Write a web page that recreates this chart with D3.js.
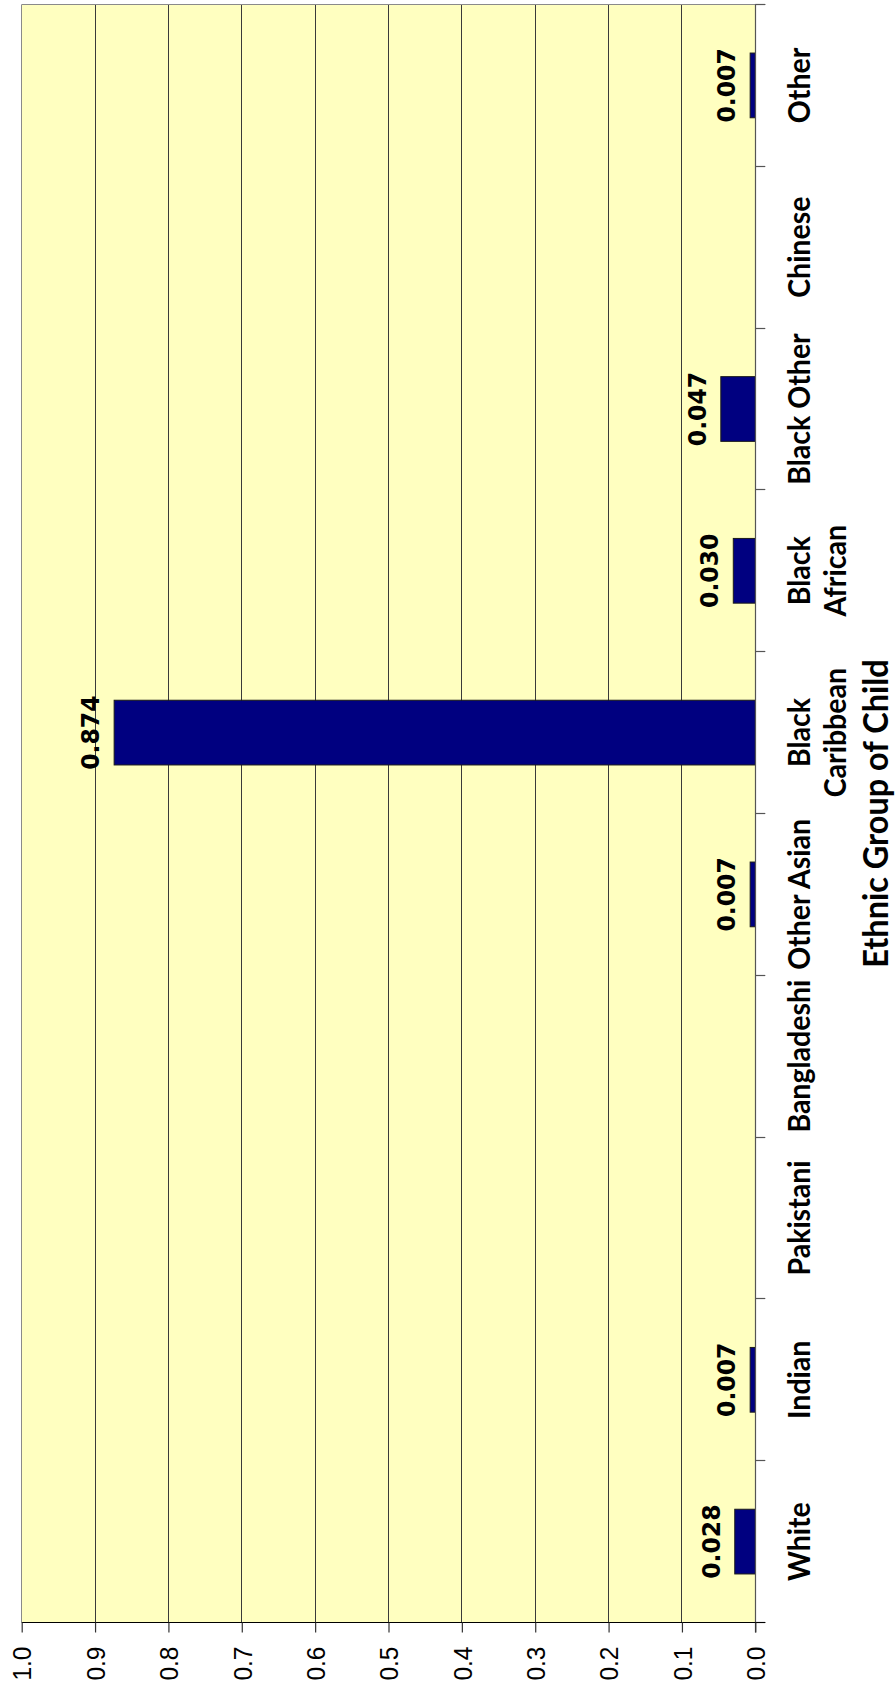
<!DOCTYPE html>
<html>
<head>
<meta charset="utf-8">
<script src="https://cdn.jsdelivr.net/npm/d3@7"></script>
<style>
  body { margin: 0; background: #ffffff; }
  svg { display: block; }
</style>
</head>
<body>
<svg id="chart" width="896" height="1691"></svg>
<script>
// Proportion of children in each ethnic group
const categories = ["White", "Indian", "Pakistani", "Bangladeshi", "Other Asian",
  "Black Caribbean", "Black African", "Black Other", "Chinese", "Other"];
const categoryLines = [["White"], ["Indian"], ["Pakistani"], ["Bangladeshi"], ["Other Asian"],
  ["Black", "Caribbean"], ["Black", "African"], ["Black Other"], ["Chinese"], ["Other"]];
const proportions = [0.028, 0.007, null, null, 0.007, 0.874, 0.030, 0.047, null, 0.007];
const valueTicks = [0.0, 0.1, 0.2, 0.3, 0.4, 0.5, 0.6, 0.7, 0.8, 0.9, 1.0];
const axisTitle = "Ethnic Group of Child";

const W = 896, H = 1691;
const plot = { left: 21.7, right: 755.3, top: 4.5, bottom: 1622.5 };
const stretch = 1.06;

const svg = d3.select("#chart");
svg.append("rect").attr("width", W).attr("height", H).attr("fill", "#ffffff");

// value axis runs right-to-left (0 at the category axis)
const x = d3.scaleLinear().domain([0, 1]).range([plot.right, plot.left]);
const order = categories.slice().reverse();          // "Other" at the top
const slot = d3.scaleBand().domain(order).range([plot.top, plot.bottom]);
const band = d3.scaleBand().domain(order).range([plot.top, plot.bottom])
  .paddingInner(0.6).paddingOuter(0.3);

const data = categories.map((c, i) => ({ cat: c, lines: categoryLines[i], v: proportions[i] }));
const crisp = v => Math.round(v - 0.5) + 0.5;

// plot background
svg.append("rect")
  .attr("x", x(1)).attr("y", plot.top)
  .attr("width", x(0) - x(1)).attr("height", plot.bottom - plot.top)
  .attr("fill", "#FFFFC0");

// gridlines
svg.append("g").selectAll("line")
  .data(valueTicks.filter(t => t > 0))
  .join("line")
  .attr("x1", d => crisp(x(d))).attr("x2", d => crisp(x(d)))
  .attr("y1", plot.top).attr("y2", plot.bottom)
  .attr("stroke", d => d === 1 ? "#8a8a8a" : "#3a3a3a")
  .attr("stroke-width", 1);

// top border of the plot area
svg.append("line")
  .attr("x1", x(1)).attr("x2", x(0) + 10)
  .attr("y1", crisp(plot.top)).attr("y2", crisp(plot.top))
  .attr("stroke", "#8a8a8a").attr("stroke-width", 1.2);

// bars
const bars = data.filter(d => d.v != null);
svg.append("g").selectAll("rect")
  .data(bars)
  .join("rect")
  .attr("x", d => x(d.v))
  .attr("y", d => band(d.cat))
  .attr("width", d => x(0) - x(d.v))
  .attr("height", band.bandwidth())
  .attr("fill", "#000080")
  .attr("stroke", "#1a1a1a")
  .attr("stroke-width", 1);

// value labels at the outer end of each bar
svg.append("g").selectAll("text")
  .data(bars)
  .join("text")
  .attr("transform", d => `translate(${x(d.v) - 15},${band(d.cat) + band.bandwidth() / 2}) rotate(-90) scale(1,${stretch})`)
  .attr("text-anchor", "middle")
  .attr("font-family", "'DejaVu Sans', Verdana, sans-serif")
  .attr("font-weight", "bold")
  .attr("font-size", 23.5)
  .attr("fill", "#000")
  .text(d => d3.format(".3f")(d.v));

// category axis (vertical, at value 0)
const catAxis = svg.append("g");
catAxis.append("line")
  .attr("x1", crisp(x(0))).attr("x2", crisp(x(0)))
  .attr("y1", plot.top).attr("y2", plot.bottom + 10)
  .attr("stroke", "#555").attr("stroke-width", 1.2);
const boundaries = order.map(c => slot(c)).concat([plot.bottom]);
catAxis.selectAll("line.tick")
  .data(boundaries)
  .join("line")
  .attr("class", "tick")
  .attr("x1", x(0)).attr("x2", x(0) + 10)
  .attr("y1", d => crisp(d)).attr("y2", d => crisp(d))
  .attr("stroke", "#555").attr("stroke-width", 1.2);

const catLabels = catAxis.selectAll("text.cat")
  .data(data)
  .join("text")
  .attr("class", "cat")
  .attr("transform", d => `translate(810,${slot(d.cat) + slot.bandwidth() / 2}) rotate(-90) scale(1,${stretch})`)
  .attr("text-anchor", "middle")
  .attr("font-family", "Lato, 'Open Sans', sans-serif")
  .attr("font-weight", "bold")
  .attr("font-size", 28.5)
  .attr("fill", "#000");
catLabels.selectAll("tspan")
  .data(d => d.lines)
  .join("tspan")
  .attr("x", 0)
  .attr("dy", (d, i) => i === 0 ? 0 : 34)
  .text(d => d);

// axis title
svg.append("text")
  .attr("transform", `translate(888,${(plot.top + plot.bottom) / 2}) rotate(-90) scale(1,${stretch})`)
  .attr("text-anchor", "middle")
  .attr("font-family", "Lato, 'Open Sans', sans-serif")
  .attr("font-weight", "bold")
  .attr("font-size", 32.5)
  .attr("fill", "#000")
  .text(axisTitle);

// value axis along the bottom
const valAxis = svg.append("g")
  .attr("transform", `translate(0,${crisp(plot.bottom)})`)
  .call(d3.axisBottom(x).tickValues(valueTicks).tickSize(10).tickSizeOuter(0)
    .tickFormat(d3.format(".1f")));
valAxis.select(".domain")
  .attr("d", `M${x(1)},0H${x(0) + 10}`)
  .attr("stroke", "#000").attr("stroke-width", 1.2);
valAxis.selectAll(".tick line").attr("stroke", "#333").attr("stroke-width", 1.2);
valAxis.selectAll(".tick text")
  .attr("font-family", "'Liberation Sans', Arial, sans-serif")
  .attr("font-size", 24.5)
  .attr("fill", "#000")
  .attr("text-anchor", "end")
  .attr("x", null).attr("y", null).attr("dy", null)
  .attr("transform", `translate(0,24) rotate(-90) scale(1,${stretch}) translate(0,8.7)`);
</script>
</body>
</html>
